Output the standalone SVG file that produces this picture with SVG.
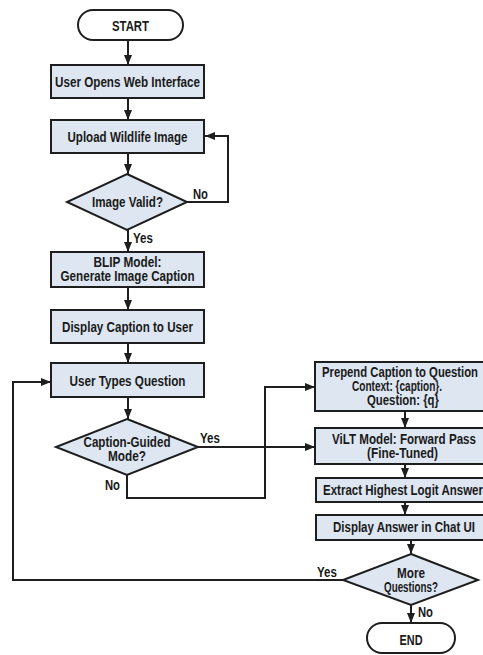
<svg xmlns="http://www.w3.org/2000/svg" width="483" height="655" viewBox="0 0 483 655">
<style>
.box{fill:#dde6f1;stroke:#1e1e1e;stroke-width:2}
.term{fill:#ffffff;stroke:#1e1e1e;stroke-width:2}
.t{font-family:"Liberation Sans",Arial,sans-serif;font-weight:bold;font-size:15px;fill:#1a1a1a;text-anchor:middle}
.lbl{font-family:"Liberation Sans",Arial,sans-serif;font-weight:bold;font-size:15px;fill:#1a1a1a}
.c{fill:none;stroke:#1e1e1e;stroke-width:2}
</style>
<defs>
<marker id="ah" markerUnits="userSpaceOnUse" markerWidth="10" markerHeight="10" viewBox="0 0 10 10" refX="10" refY="5" orient="auto">
<path d="M0,1 L10,5 L0,9 Z" fill="#1e1e1e"/>
</marker>
</defs>
<rect width="483" height="655" fill="#ffffff"/>
<g id="connectors">
<path class="c" d="M128,40 V65" marker-end="url(#ah)"/>
<path class="c" d="M128,98 V120" marker-end="url(#ah)"/>
<path class="c" d="M128,153 V174" marker-end="url(#ah)"/>
<path class="c" d="M187,202 H228 V136 H205" marker-end="url(#ah)"/>
<path class="c" d="M128,230 V252" marker-end="url(#ah)"/>
<path class="c" d="M128,287 V310" marker-end="url(#ah)"/>
<path class="c" d="M128,343 V363" marker-end="url(#ah)"/>
<path class="c" d="M128,397 V419" marker-end="url(#ah)"/>
<path class="c" d="M198,447 H315" marker-end="url(#ah)"/>
<path class="c" d="M127,475 V498 H265 V387 H315" marker-end="url(#ah)"/>
<path class="c" d="M405,411 V428" marker-end="url(#ah)"/>
<path class="c" d="M405,464 V478" marker-end="url(#ah)"/>
<path class="c" d="M405,502 V515" marker-end="url(#ah)"/>
<path class="c" d="M411,540 V554" marker-end="url(#ah)"/>
<path class="c" d="M343,580 H13 V382 H51" marker-end="url(#ah)"/>
<path class="c" d="M411,605 V623" marker-end="url(#ah)"/>
<text class="lbl" x="193" y="199" textLength="15" lengthAdjust="spacingAndGlyphs">No</text>
<text class="lbl" x="133" y="243" textLength="20" lengthAdjust="spacingAndGlyphs">Yes</text>
<text class="lbl" x="200" y="443" textLength="20" lengthAdjust="spacingAndGlyphs">Yes</text>
<text class="lbl" x="105" y="490" textLength="15" lengthAdjust="spacingAndGlyphs">No</text>
<text class="lbl" x="317" y="577" textLength="20" lengthAdjust="spacingAndGlyphs">Yes</text>
<text class="lbl" x="418" y="617" textLength="15" lengthAdjust="spacingAndGlyphs">No</text>
</g>
<g id="start">
<rect class="term" x="78" y="10" width="105" height="30" rx="15"/>
<text class="t" x="130.5" y="31" textLength="37" lengthAdjust="spacingAndGlyphs">START</text>
</g>
<g id="open-web">
<rect class="box" x="51" y="65" width="153" height="33"/>
<text class="t" x="127.5" y="86.5" textLength="145" lengthAdjust="spacingAndGlyphs">User Opens Web Interface</text>
</g>
<g id="upload">
<rect class="box" x="51" y="120" width="153" height="33"/>
<text class="t" x="127.5" y="141.5" textLength="120" lengthAdjust="spacingAndGlyphs">Upload Wildlife Image</text>
</g>
<g id="valid">
<polygon class="box" points="127,174 187,202 127,230 67,202"/>
<text class="t" x="127.5" y="207" textLength="71" lengthAdjust="spacingAndGlyphs">Image Valid?</text>
</g>
<g id="blip">
<rect class="box" x="51" y="252" width="153" height="35"/>
<text class="t" x="127.5" y="267" textLength="68" lengthAdjust="spacingAndGlyphs">BLIP Model:</text>
<text class="t" x="127.5" y="281" textLength="134" lengthAdjust="spacingAndGlyphs">Generate Image Caption</text>
</g>
<g id="display-caption">
<rect class="box" x="51" y="310" width="153" height="33"/>
<text class="t" x="127.5" y="331.5" textLength="131" lengthAdjust="spacingAndGlyphs">Display Caption to User</text>
</g>
<g id="types-question">
<rect class="box" x="51" y="363" width="153" height="34"/>
<text class="t" x="127.5" y="385.5" textLength="116" lengthAdjust="spacingAndGlyphs">User Types Question</text>
</g>
<g id="guided">
<polygon class="box" points="127,419 198,447 127,475 56,447"/>
<text class="t" x="127" y="447" textLength="87" lengthAdjust="spacingAndGlyphs">Caption-Guided</text>
<text class="t" x="127" y="461" textLength="38" lengthAdjust="spacingAndGlyphs">Mode?</text>
</g>
<g id="prepend">
<rect class="box" x="315" y="362" width="180" height="49"/>
<text class="t" x="400" y="377" textLength="156" lengthAdjust="spacingAndGlyphs">Prepend Caption to Question</text>
<text class="t" x="397" y="391" textLength="90" lengthAdjust="spacingAndGlyphs">Context: {caption}.</text>
<text class="t" x="403" y="405" textLength="72" lengthAdjust="spacingAndGlyphs">Question: {q}</text>
</g>
<g id="vilt">
<rect class="box" x="315" y="428" width="180" height="36"/>
<text class="t" x="404" y="444" textLength="144" lengthAdjust="spacingAndGlyphs">ViLT Model: Forward Pass</text>
<text class="t" x="402.5" y="457.5" textLength="71" lengthAdjust="spacingAndGlyphs">(Fine-Tuned)</text>
</g>
<g id="extract">
<rect class="box" x="316" y="478" width="179" height="24"/>
<text class="t" x="403" y="494.5" textLength="160" lengthAdjust="spacingAndGlyphs">Extract Highest Logit Answer</text>
</g>
<g id="display-answer">
<rect class="box" x="316" y="515" width="179" height="25"/>
<text class="t" x="404" y="532" textLength="142" lengthAdjust="spacingAndGlyphs">Display Answer in Chat UI</text>
</g>
<g id="more">
<polygon class="box" points="411,554 478,580 411,605 343,580"/>
<text class="t" x="411" y="578" textLength="28" lengthAdjust="spacingAndGlyphs">More</text>
<text class="t" x="411" y="592" textLength="54" lengthAdjust="spacingAndGlyphs">Questions?</text>
</g>
<g id="end">
<rect class="term" x="367" y="623" width="88" height="30" rx="15"/>
<text class="t" x="411" y="644.5" textLength="23" lengthAdjust="spacingAndGlyphs">END</text>
</g>
</svg>
